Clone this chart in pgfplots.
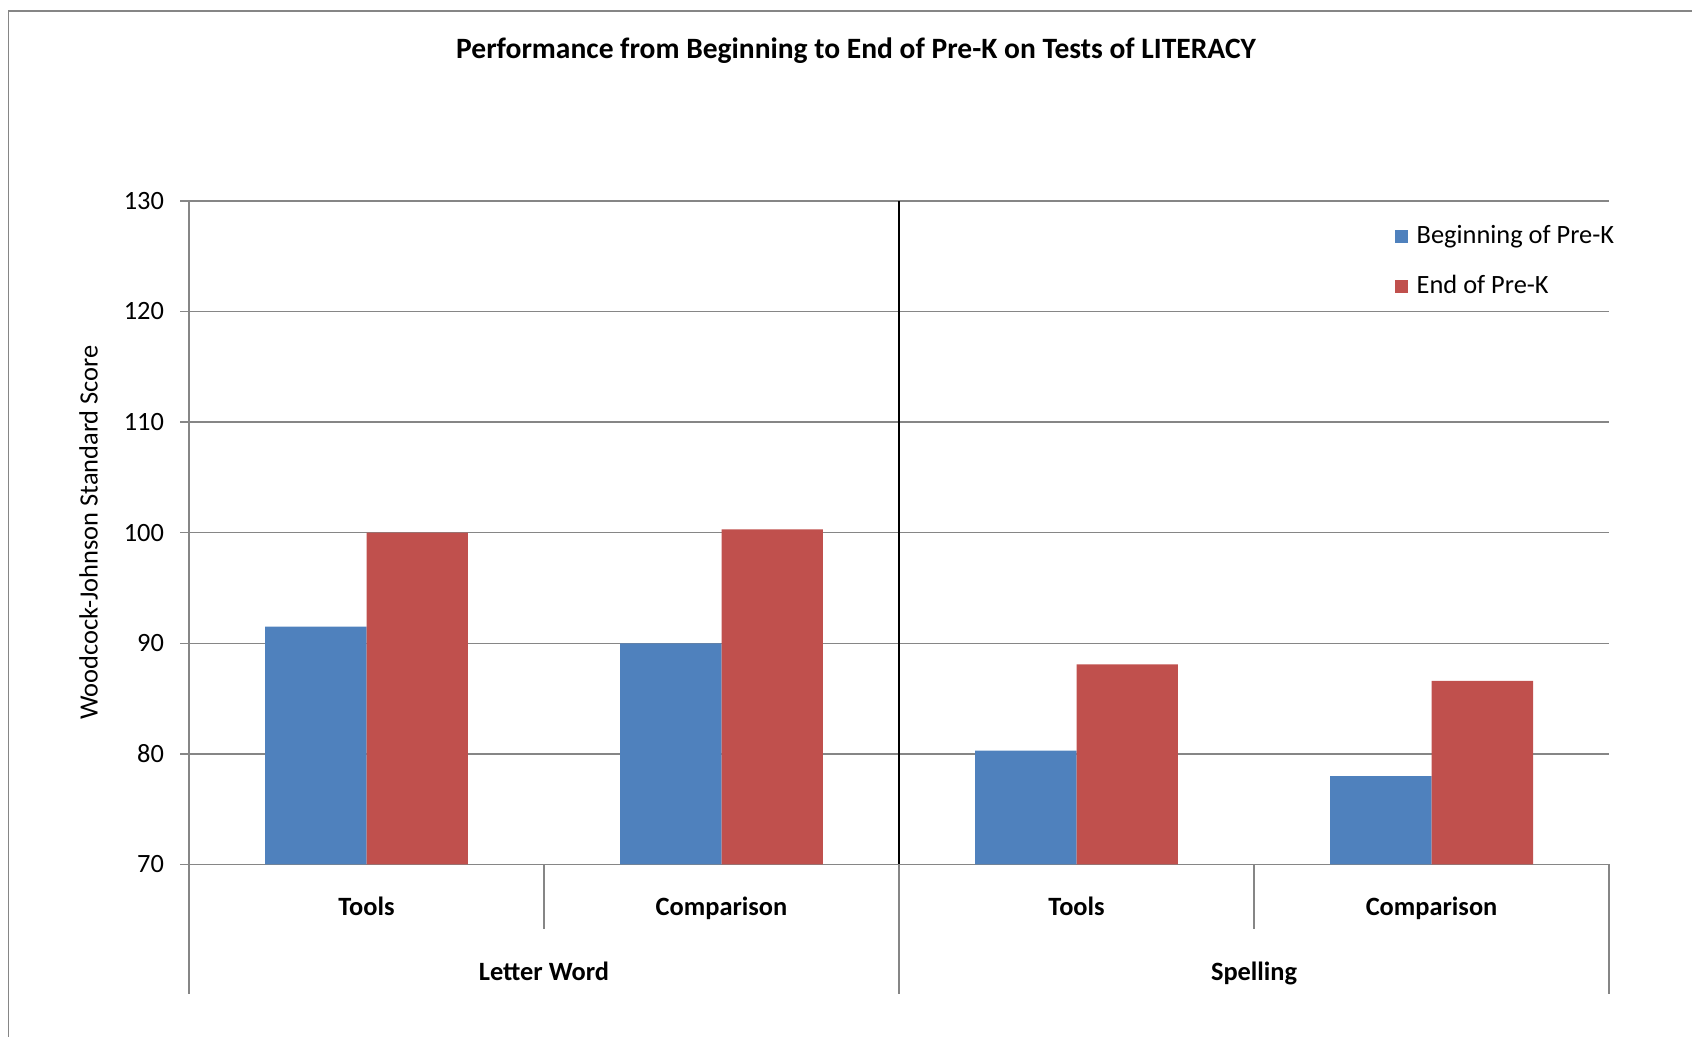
\documentclass[border=0pt]{standalone}
\usepackage{pgfplots}
\pgfplotsset{compat=1.18}
\usepackage{fontspec}
\setmainfont{Carlito}
\definecolor{cblue}{HTML}{4F81BD}
\definecolor{cred}{HTML}{C0504D}
\definecolor{cgrid}{HTML}{868686}
\newcommand{\tfont}{\fontsize{11}{13.2}\selectfont}
\begin{document}
\begin{tikzpicture}[x=1pt,y=1pt]
\useasboundingbox (0,0) rectangle (705,432);
\draw[cgrid, line width=0.6pt] (3.6,-5) -- (3.6,427.5) -- (710,427.5);
\node[font=\bfseries\fontsize{12.3}{14.5}\selectfont] at (356.7,410.8) {Performance from Beginning to End of Pre-K on Tests of LITERACY};
\node[font=\tfont, rotate=90] at (36.9,210.1) {Woodcock-Johnson Standard Score};
\begin{axis}[
  at={(78.75pt,71.8pt)}, anchor=south west,
  scale only axis, width=591.7pt, height=276.5pt,
  xmin=-0.5, xmax=3.5, ymin=70, ymax=130,
  ytick={70,80,...,130},
  xtick={0,1,2,3}, xticklabels={Tools,Comparison,Tools,Comparison},
  xticklabel style={font=\tfont\bfseries, anchor=base, yshift=-17.8pt},
  yticklabel style={font=\tfont, xshift=-3.3pt},
  /pgf/number format/assume math mode=true,
  x tick style={draw=none},
  ymajorgrids, grid style={cgrid, line width=0.6pt},
  axis x line*=bottom, axis y line*=left,
  axis line style={cgrid, line width=0.6pt, -},
  y tick style={cgrid, line width=0.6pt},
  tick align=outside, major tick length=3.6pt,
  clip=false,
  legend style={draw=none, fill=none, at={(rel axis cs:0.849,0.9705)}, anchor=north west, inner sep=0pt, row sep=7.7pt, font=\tfont, nodes={inner xsep=3.6pt}},
  legend cell align=left,
  legend image code/.code={\fill[#1] (0pt,-2.7pt) rectangle (5.4pt,2.7pt);},
]
\addplot[ybar, bar width=0.285714, bar shift=-0.142857, fill=cblue, draw=none] coordinates {(0,91.5) (1,90.0) (2,80.3) (3,78.0)};
\addlegendentry{Beginning of Pre-K}
\addplot[ybar, bar width=0.285714, bar shift=0.142857, fill=cred, draw=none] coordinates {(0,100.0) (1,100.3) (2,88.1) (3,86.6)};
\addlegendentry{End of Pre-K}
\draw[black, line width=0.6pt] (axis cs:1.5,70) -- (axis cs:1.5,130);
\draw[cgrid, line width=0.6pt] (axis cs:-0.5,70) -- ++(0pt,-54pt);
\draw[cgrid, line width=0.6pt] (axis cs:1.5,70) -- ++(0pt,-54pt);
\draw[cgrid, line width=0.6pt] (axis cs:3.5,70) -- ++(0pt,-54pt);
\draw[cgrid, line width=0.6pt] (axis cs:0.5,70) -- ++(0pt,-27pt);
\draw[cgrid, line width=0.6pt] (axis cs:2.5,70) -- ++(0pt,-27pt);
\node[font=\tfont\bfseries, anchor=base] at ([yshift=-48.3pt]axis cs:0.5,70) {Letter Word};
\node[font=\tfont\bfseries, anchor=base] at ([yshift=-48.3pt]axis cs:2.5,70) {Spelling};
\end{axis}
\end{tikzpicture}
\end{document}
